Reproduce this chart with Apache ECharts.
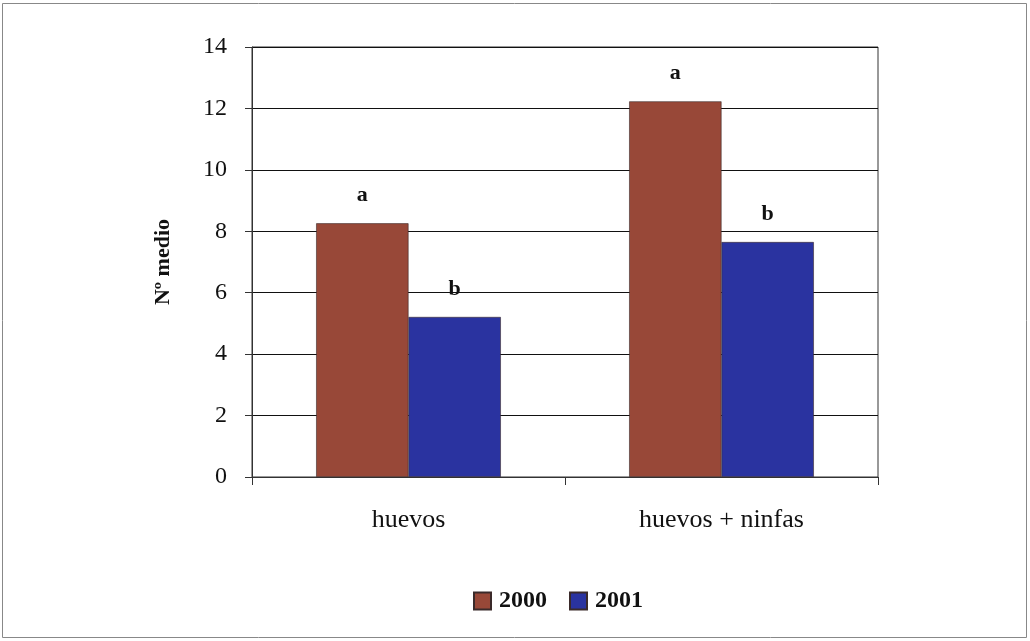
<!DOCTYPE html>
<html><head><meta charset="utf-8">
<script src="https://cdn.jsdelivr.net/npm/echarts@6/dist/echarts.min.js"></script>
<style>html,body{margin:0;padding:0;background:#fff}#c{width:1030px;height:641px}</style>
</head><body><div id="c"></div>
<script>
const categories = ['huevos', 'huevos + ninfas'];
const series2000 = [8.26, 12.23];
const series2001 = [5.21, 7.65];
const labels2000 = ['a', 'a'];
const labels2001 = ['b', 'b'];
const yTicks = [0, 2, 4, 6, 8, 10, 12, 14];

const font = '"Liberation Serif", "Times New Roman", serif';
const chart = echarts.init(document.getElementById('c'), null, {renderer: 'canvas'});
function mk(name, vals, labs, color) {
  return {
    name, type: 'bar', data: vals, barGap: '0%', barCategoryGap: '41%',
    itemStyle: {color, borderColor: '#3a2a2a', borderWidth: 0.6},
    label: {show: true, position: 'top', distance: 17, formatter: p => labs[p.dataIndex],
      fontFamily: font, fontWeight: 'bold', fontSize: 22, color: '#111'}
  };
}
chart.setOption({
  animation: false,
  backgroundColor: '#fff',
  graphic: [{type: 'rect', shape: {x: 2.5, y: 3.5, width: 1024, height: 634},
    style: {fill: 'none', stroke: '#888', lineWidth: 1}}],
  grid: {left: 252, right: 152, top: 47, bottom: 164, show: true, borderColor: '#333', borderWidth: 1},
  legend: {data: ['2000', '2001'], bottom: 23, left: 468, icon: 'rect', itemWidth: 17, itemHeight: 17, itemGap: 22,
    textStyle: {fontFamily: font, fontWeight: 'bold', fontSize: 24, color: '#111', padding: [0, 0, 0, 3]}},
  xAxis: {type: 'category', data: categories,
    axisLine: {lineStyle: {color: '#333', width: 1}},
    axisTick: {show: true, length: 8, lineStyle: {color: '#333'}},
    axisLabel: {fontFamily: font, fontSize: 26, color: '#111', margin: 30}},
  yAxis: {type: 'value', min: yTicks[0], max: yTicks[yTicks.length - 1], interval: 2,
    name: 'Nº medio', nameLocation: 'middle', nameGap: 78,
    nameTextStyle: {fontFamily: font, fontWeight: 'bold', fontSize: 22, color: '#111'},
    axisLine: {show: true, lineStyle: {color: '#333'}},
    axisTick: {show: true, length: 7, lineStyle: {color: '#333'}},
    splitLine: {lineStyle: {color: '#111', width: 1}},
    axisLabel: {fontFamily: font, fontSize: 24, color: '#111', margin: 25}},
  series: [mk('2000', series2000, labels2000, '#984838'), mk('2001', series2001, labels2001, '#2A33A0')]
});
</script></body></html>
